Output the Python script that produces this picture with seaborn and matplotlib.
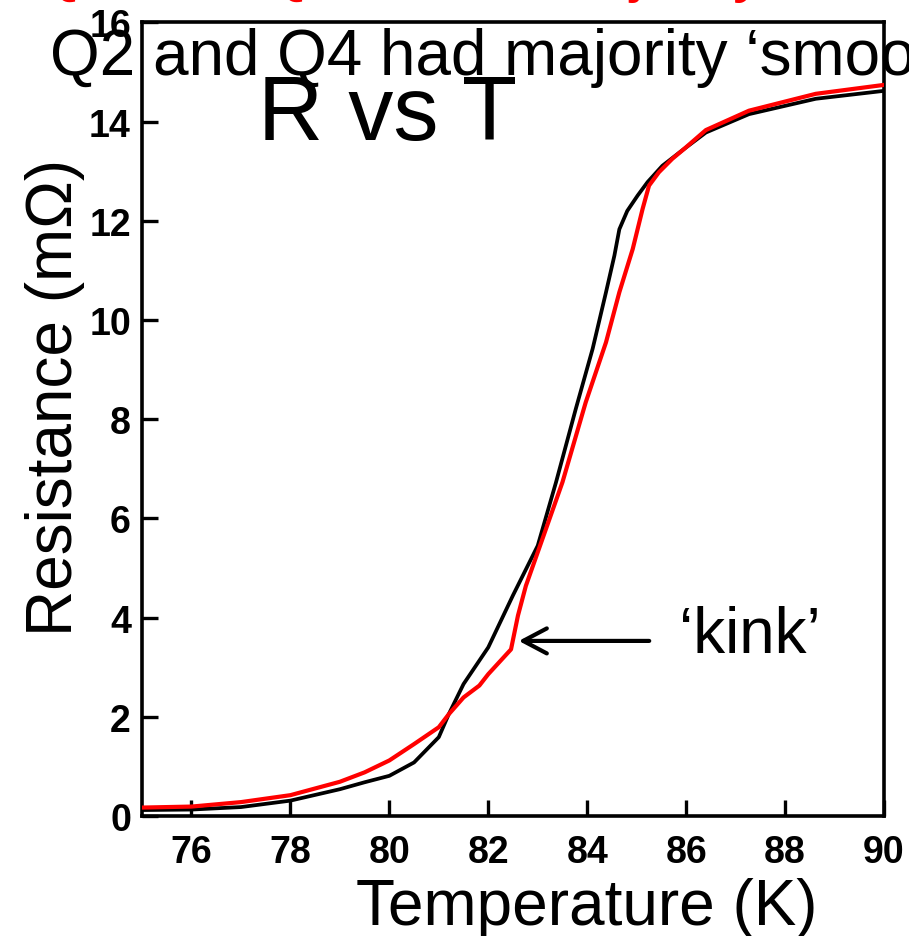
import matplotlib
matplotlib.use("Agg")
import matplotlib.pyplot as plt
from matplotlib import font_manager
import numpy as np
import pandas as pd
import seaborn as sns

# Temperature sweep (K) and measured resistance (mOhm) for the two samples
temp_smooth = [75.0, 76.0, 77.0, 78.0, 79.0, 79.5, 80.0, 80.5, 81.0, 81.2, 81.5,
               82.0, 82.5, 83.0, 83.37, 83.77, 84.11, 84.38, 84.55, 84.65, 84.81,
               85.02, 85.22, 85.52, 85.96, 86.4, 87.27, 88.62, 90.0]
res_smooth = [0.12, 0.13, 0.18, 0.31, 0.54, 0.68, 0.81, 1.08, 1.59, 2.05, 2.66,
              3.40, 4.45, 5.45, 6.73, 8.21, 9.42, 10.56, 11.30, 11.83, 12.20,
              12.51, 12.78, 13.11, 13.45, 13.78, 14.15, 14.46, 14.62]

temp_kink = [75.0, 76.0, 77.0, 78.0, 79.0, 79.5, 80.0, 80.5, 81.0, 81.2, 81.5,
             81.82, 82.0, 82.46, 82.6, 82.76, 83.1, 83.5, 83.97, 84.38, 84.65,
             84.92, 85.12, 85.25, 85.45, 85.72, 85.96, 86.4, 87.27, 88.62, 90.0]
res_kink = [0.17, 0.19, 0.28, 0.42, 0.69, 0.88, 1.12, 1.45, 1.79, 2.05, 2.39,
            2.63, 2.86, 3.36, 4.04, 4.64, 5.60, 6.73, 8.34, 9.55, 10.56,
            11.43, 12.24, 12.71, 12.98, 13.25, 13.45, 13.83, 14.22, 14.56, 14.74]

x_ticks = [76, 78, 80, 82, 84, 86, 88, 90]
y_ticks = [0, 2, 4, 6, 8, 10, 12, 14, 16]

sns.set_theme(style="ticks")
plt.rcParams["font.family"] = ["Liberation Sans", "DejaVu Sans"]
for key in ("text.color", "axes.labelcolor", "xtick.color", "ytick.color",
            "axes.edgecolor"):
    plt.rcParams[key] = "black"

# Narrow bold face for the tick numbers when one is available
tick_font = dict(family="Liberation Sans", weight="bold")
for f in font_manager.fontManager.ttflist:
    if f.name == "Liberation Sans Narrow" and f.weight in (700, "bold"):
        tick_font = dict(fname=f.fname)
        break
tick_prop = font_manager.FontProperties(**tick_font)
tick_prop.set_size(27)

df = pd.concat([
    pd.DataFrame({"T": temp_smooth, "R": res_smooth, "sample": "smooth"}),
    pd.DataFrame({"T": temp_kink, "R": res_kink, "sample": "kink"}),
])

fig = plt.figure(figsize=(9.09, 9.37), dpi=100)
ax = fig.add_axes([142 / 909, 1 - 817 / 937, 742 / 909, (817 - 23.4) / 937])

sns.lineplot(data=df, x="T", y="R", hue="sample", size="sample",
             sizes={"smooth": 2.7, "kink": 3.0}, sort=False, estimator=None,
             palette={"smooth": "black", "kink": "#ff0000"},
             legend=False, ax=ax, zorder=3)

ax.set_xlim(75, 90)
ax.set_ylim(0, 16)
ax.set_xticks(x_ticks, labels=[str(t) for t in x_ticks], fontproperties=tick_prop)
ax.set_yticks(y_ticks, labels=[str(t) for t in y_ticks], fontproperties=tick_prop)
for s in ax.spines.values():
    s.set_linewidth(2.6)
    s.set_color("black")
ax.tick_params(direction="in", length=11.5, width=2.4, color="black")
ax.tick_params(axis="x", pad=13)
ax.tick_params(axis="y", pad=8)

ax.set_xlabel("Temperature (K)", fontsize=46, color="black")
ax.xaxis.label.set_va("baseline")
ax.xaxis.set_label_coords(0.60, -0.136)
ax.set_ylabel("Resistance (m\u03a9)", fontsize=46, color="black")
ax.yaxis.label.set_va("baseline")
ax.yaxis.set_label_coords(-0.094, 0.529)

# Arrow pointing at the kink on the red trace
ax.annotate("", xy=(82.56, 3.53), xytext=(85.31, 3.53),
            arrowprops=dict(arrowstyle="->,head_length=0.85,head_width=0.45",
                            mutation_scale=20, lw=3.0, color="black"))
ax.text(85.86, 3.31, "\u2018kink\u2019", fontsize=46, va="baseline", ha="left",
        color="black")

fig.text(258 / 909, 1 - 140 / 937, "R vs T", fontsize=65, va="baseline",
         ha="left", color="black")
fig.text(50 / 909, 1 - 75 / 937, "Q2 and Q4 had majority \u2018smooth\u2019",
         fontsize=46, va="baseline", ha="left", color="black")
fig.text(34 / 909, 1 + 10 / 937, "Q1 and Q3 had a majority \u2018kinks\u2019",
         fontsize=46, va="baseline", ha="left", color="#ff0000")

fig.savefig("out.png", dpi=100)
